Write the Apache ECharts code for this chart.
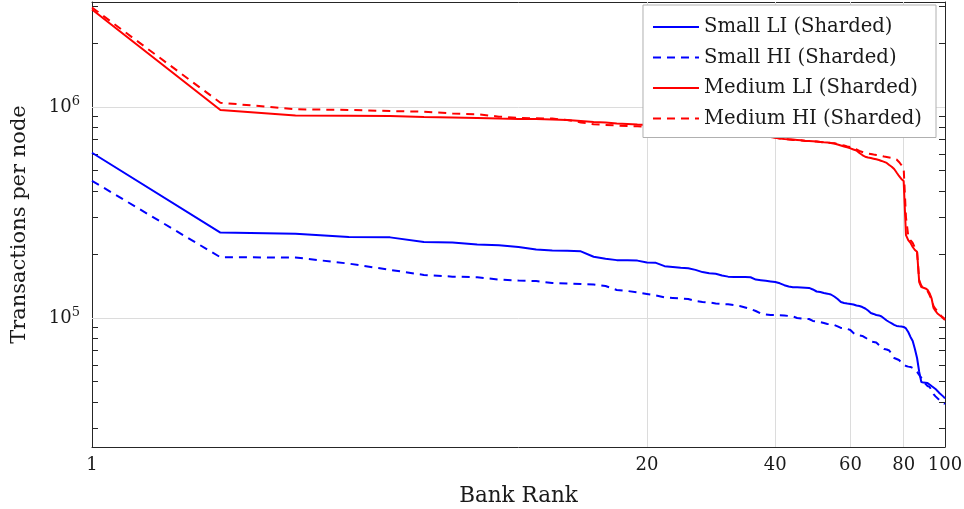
<!DOCTYPE html>
<html>
<head>
<meta charset="utf-8">
<script src="https://cdn.jsdelivr.net/npm/echarts@6/dist/echarts.min.js"></script>
<style>
  html, body { margin: 0; padding: 0; background: #ffffff; }
  #chart { width: 964px; height: 509px; }
</style>
</head>
<body>
<div id="chart"></div>
<script>
// Bank rank (x) for every series
const ranks = [
  1, 2, 3, 4, 5, 6, 7, 8, 9, 10,
  11, 12, 13, 14, 15, 16, 17, 18, 19, 20,
  21, 22, 23, 24, 25, 26, 27, 28, 29, 30,
  31, 32, 33, 34, 35, 36, 37, 38, 39, 40,
  41, 42, 43, 44, 45, 46, 47, 48, 49, 50,
  51, 52, 53, 54, 55, 56, 57, 58, 59, 60,
  61, 62, 63, 64, 65, 66, 67, 68, 69, 70,
  71, 72, 73, 74, 75, 76, 77, 78, 79, 80,
  81, 82, 83, 84, 85, 86, 87, 88, 89, 90,
  91, 92, 93, 94, 95, 96, 97, 98, 99, 100
];

// Transactions per node, one value per rank
const smallLI = [
  607000, 254000, 251000, 242000, 241000, 229000, 228000, 223000, 221000, 217000,
  211000, 209000, 208000, 207000, 195000, 191000, 188000, 188000, 187000, 183000,
  182500, 176000, 174500, 173000, 172000, 169000, 165000, 163000, 162000, 159000,
  157000, 156500, 156500, 156500, 156000, 152000, 151000, 150000, 149000, 148000,
  146000, 143000, 141000, 140000, 139800, 139500, 139200, 138800, 136500, 133500,
  132800, 131400, 130400, 129200, 126400, 123000, 119100, 117800, 117100, 116500,
  115900, 114600, 114000, 112700, 110900, 108500, 105600, 104500, 103300, 102800,
  101600, 99450, 97300, 95700, 94200, 92700, 91700, 91350, 91150, 90700,
  89200, 85800, 81300, 77800, 71300, 64600, 55500, 49700, 49400, 49300,
  49200, 48400, 47600, 46850, 46100, 45100, 44100, 43300, 42500, 41600
];

const smallHI = [
  447000, 194000, 193500, 181000, 169000, 160000, 157000, 156000, 152000, 150500,
  149700, 146500, 145700, 144900, 144100, 141800, 135800, 134300, 132100, 129900,
  127800, 125100, 124400, 123700, 123000, 120400, 119100, 118400, 117100, 116500,
  116100, 115200, 114000, 112200, 110300, 107900, 105000, 103900, 103300, 103200,
  103000, 102800, 102200, 101600, 100000, 99500, 99100, 98900, 96800, 96300,
  95700, 94700, 93700, 93200, 92700, 91200, 89700, 89200, 88700, 87700,
  84900, 83100, 82600, 82200, 80800, 79100, 77400, 77000, 76500, 74500,
  72900, 71300, 70900, 70100, 67500, 64600, 63900, 63200, 61500, 60200,
  59200, 58800, 58600, 57900, 56700, 55500, 53700, 52000, 50300, 48700,
  47600, 47100, 45600, 43600, 42500, 41800, 40900, 40200, 39600, 39100
];

const mediumLI = [
  2900000, 968000, 912000, 910000, 907000, 897000, 892000, 887000, 882000, 878000,
  878000, 873000, 868000, 858000, 849000, 845000, 835000, 831000, 826000, 822000,
  817000, 813000, 807000, 801000, 795000, 790000, 784000, 778000, 774000, 770000,
  764000, 759000, 753000, 749000, 745000, 739000, 734000, 729000, 721000, 714000,
  709000, 705000, 703000, 701000, 698000, 695000, 692000, 690000, 688000, 686000,
  683000, 680000, 678000, 675000, 671000, 664000, 657000, 650000, 644000, 637000,
  629000, 622000, 605000, 592000, 581000, 576000, 573000, 569000, 565000, 561000,
  555000, 549000, 543000, 531000, 521000, 508000, 489000, 471000, 456000, 446000,
  247000, 234000, 227000, 217000, 210000, 206000, 148000, 140000, 139000, 138000,
  136000, 131000, 124000, 111500, 108000, 105000, 103300, 101600, 100000, 97800
];

const mediumHI = [
  2960000, 1048000, 975000, 968000, 957000, 950000, 932000, 924000, 900000, 887000,
  884000, 881000, 868000, 845000, 828000, 822000, 817000, 813000, 810000, 807000,
  804000, 800000, 795000, 791000, 787000, 782000, 778000, 774000, 770000, 765000,
  761000, 757000, 753000, 749000, 745000, 741000, 737000, 733000, 725000, 717000,
  709000, 705000, 701000, 698000, 695000, 693000, 690000, 689000, 687000, 686000,
  683000, 680000, 678000, 675000, 673000, 668000, 661000, 657000, 650000, 646000,
  636000, 629000, 619000, 612000, 605000, 602000, 599000, 595000, 592000, 589000,
  586000, 582000, 579000, 576000, 573000, 570000, 564000, 549000, 531000, 514000,
  300000, 245000, 234000, 227000, 215000, 206000, 151000, 142000, 139000, 137000,
  134000, 128500, 122000, 114000, 110300, 108000, 105600, 102200, 100000, 98900
];

const seriesNames = [
  'Small LI (Sharded)',
  'Small HI (Sharded)',
  'Medium LI (Sharded)',
  'Medium HI (Sharded)'
];

// Axis ticks and labels
const xTickValues = [20, 40, 60, 80];
const xLabelValues = [1, 20, 40, 60, 80, 100];
const yLabelValues = [100000, 1000000];
const yLabelExponents = ['5', '6'];
const yTickValues = [
  30000, 40000, 50000, 60000, 70000, 80000, 90000,
  100000, 200000, 300000, 400000, 500000, 600000, 700000, 800000, 900000,
  1000000, 2000000, 3000000
];

const FONT = 'DejaVu Serif';
const TEXT = '#1a1a1a';
const FRAME = '#262626';
const GRID = '#dcdcdc';
const BLUE = '#0000ff';
const RED = '#ff0000';
const DASH = [8, 6];

const X_MIN = 1, X_MAX = 100;
const Y_MIN = 24460, Y_MAX = 3145000;

const pairs = vals => ranks.map((r, i) => [r, vals[i]]);

function xAxisAt(position, withText) {
  const axis = {
    type: 'log', logBase: 10, min: X_MIN, max: X_MAX, position: position,
    axisLine: { show: true, onZero: false, lineStyle: { color: FRAME, width: 1 } },
    axisTick: { show: true, inside: true, length: 7, customValues: xTickValues,
                lineStyle: { color: FRAME, width: 1 } },
    axisLabel: { show: withText },
    splitLine: { show: false },
    minorTick: { show: false }
  };
  if (withText) {
    axis.axisLabel = {
      show: true, customValues: xLabelValues, margin: 9,
      fontFamily: FONT, fontSize: 18, color: TEXT,
      formatter: v => String(Math.round(v))
    };
    axis.name = 'Bank Rank';
    axis.nameLocation = 'middle';
    axis.nameGap = 38;
    axis.nameTextStyle = { fontFamily: FONT, fontSize: 21.5, color: TEXT };
  }
  return axis;
}

function yAxisAt(position, withText) {
  const axis = {
    type: 'log', logBase: 10, min: Y_MIN, max: Y_MAX, position: position,
    axisLine: { show: true, onZero: false, lineStyle: { color: FRAME, width: 1 } },
    axisTick: { show: true, inside: true, length: 6, customValues: yTickValues,
                lineStyle: { color: FRAME, width: 1 } },
    axisLabel: { show: withText },
    splitLine: { show: false },
    minorTick: { show: false }
  };
  if (withText) {
    axis.axisLabel = {
      show: true, customValues: yLabelValues, margin: 12,
      formatter: v => {
        let k = 0;
        yLabelValues.forEach((t, i) => { if (Math.abs(t - v) / t < 1e-6) k = i; });
        return '{b|10}{s|' + yLabelExponents[k] + '}';
      },
      rich: {
        b: { fontFamily: FONT, fontSize: 18, color: TEXT },
        s: { fontFamily: FONT, fontSize: 13, color: TEXT, padding: [0, 0, 10, 0] }
      }
    };
    axis.name = 'Transactions per node';
    axis.nameLocation = 'middle';
    axis.nameGap = 62;
    axis.nameRotate = 90;
    axis.nameTextStyle = { fontFamily: FONT, fontSize: 21, color: TEXT };
  }
  return axis;
}

function lineSeries(name, values, color, dashed) {
  return {
    name: name, type: 'line', data: pairs(values),
    xAxisIndex: 0, yAxisIndex: 0,
    symbol: 'none', showSymbol: false, smooth: false, z: 3,
    lineStyle: { color: color, width: 2, type: dashed ? DASH : 'solid' },
    itemStyle: { color: color },
    emphasis: { disabled: true }
  };
}

const chart = echarts.init(document.getElementById('chart'), null, { renderer: 'canvas' });

chart.setOption({
  animation: false,
  backgroundColor: '#ffffff',
  grid: { left: 92, right: 19, top: 2, bottom: 62, containLabel: false, outerBoundsMode: 'none' },
  xAxis: [xAxisAt('bottom', true), xAxisAt('top', false)],
  yAxis: [yAxisAt('left', true), yAxisAt('right', false)],
  legend: {
    data: seriesNames,
    orient: 'vertical',
    right: 28, top: 5,
    padding: [12, 14, 9, 9],
    itemGap: 10.5,
    itemWidth: 46, itemHeight: 14,
    itemStyle: { opacity: 0 },
    backgroundColor: '#ffffff',
    borderColor: '#b0b0b0', borderWidth: 1, borderRadius: 0,
    textStyle: { fontFamily: FONT, fontSize: 19.6, color: TEXT, lineHeight: 20 },
    selectedMode: false
  },
  series: [
    {
      name: 'grid', type: 'line', data: [], silent: true, z: 1,
      markLine: {
        silent: true, z: 1,
        symbol: ['none', 'none'],
        label: { show: false },
        emphasis: { disabled: true },
        lineStyle: { color: GRID, width: 1, type: 'solid' },
        data: xTickValues.map(v => ({ xAxis: v }))
          .concat(yLabelValues.map(v => ({ yAxis: v })))
      }
    },
    lineSeries(seriesNames[0], smallLI, BLUE, false),
    lineSeries(seriesNames[1], smallHI, BLUE, true),
    lineSeries(seriesNames[2], mediumLI, RED, false),
    lineSeries(seriesNames[3], mediumHI, RED, true)
  ]
});
</script>
</body>
</html>
